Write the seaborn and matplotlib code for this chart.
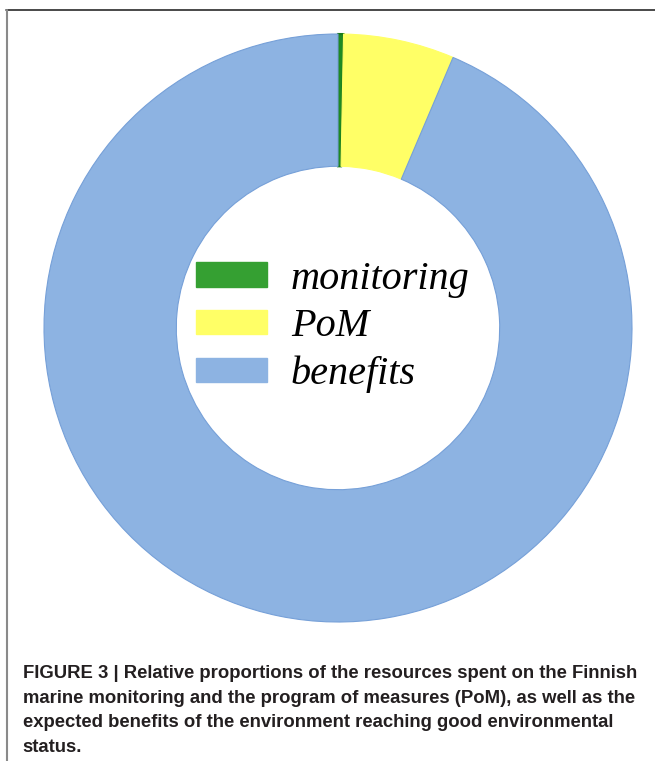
import matplotlib
matplotlib.use("Agg")
import matplotlib.pyplot as plt
from matplotlib.patches import Patch
from matplotlib.lines import Line2D
import seaborn as sns

# Data: share of resources (%)
categories = ["monitoring", "PoM", "benefits"]
shares = [0.3, 6.1, 93.6]
wedge_colors = ["#1f8a22", "#ffff66", "#8db3e2"]
legend_colors = ["#35a032", "#ffff66", "#8db3e2"]

caption = ("FIGURE 3 | Relative proportions of the resources spent on the Finnish\n"
           "marine monitoring and the program of measures (PoM), as well as the\n"
           "expected benefits of the environment reaching good environmental\n"
           "status.")

sns.set_theme(style="white")

W, H = 655, 761
fig = plt.figure(figsize=(W / 100, H / 100), dpi=100)

# donut centre (338, 328) px, outer radius 294 px
cx, cy, half = 338, 328, 300
ax = fig.add_axes([(cx - half) / W, 1 - (cy + half) / H, 2 * half / W, 2 * half / H])
wedges, _ = ax.pie(shares, colors=sns.color_palette(wedge_colors), startangle=90,
                   counterclock=False, radius=294 / 300,
                   wedgeprops=dict(width=0.45 * 294 / 300, edgecolor="#76a0d8", linewidth=0.8))
wedges[0].set_edgecolor("#1a7a1c")
wedges[0].set_linewidth(1.5)
wedges[1].set_edgecolor("#ffff66")
ax.set_xlim(-1, 1)
ax.set_ylim(-1, 1)
ax.set_aspect("equal")
ax.axis("off")

handles = [Patch(facecolor=c, edgecolor=c) for c in legend_colors]
leg = fig.legend(handles, categories, loc="center", bbox_to_anchor=(333 / W, 1 - 327 / H),
                 frameon=False, prop=dict(family="Liberation Serif", style="italic", size=29),
                 handlelength=1.75, handleheight=0.55, handletextpad=0.6, labelspacing=0.26,
                 borderpad=0)
for t in leg.get_texts():
    t.set_color("black")

fig.text(22.7 / W, 1 - 665.5 / H, caption, ha="left", va="top",
         fontsize=13.3, fontweight="bold", family="Liberation Sans", color="#231f20",
         linespacing=1.57)

# figure frame: dark top rule and grey left rule
fig.add_artist(Line2D([6 / W, 1], [1 - 10 / H, 1 - 10 / H], color="#2a2a2a", lw=1.2))
fig.add_artist(Line2D([7 / W, 7 / W], [0, 1 - 10 / H], color="#8a8a8a", lw=1.5))

fig.savefig("out.png", dpi=100, facecolor="white")
